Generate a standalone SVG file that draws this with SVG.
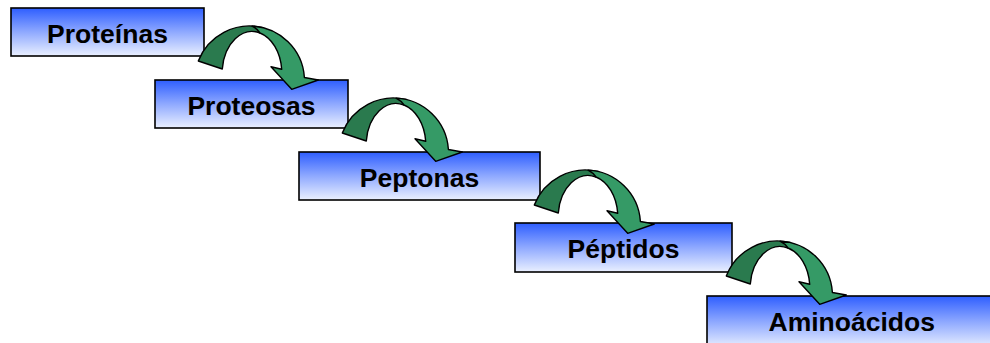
<svg xmlns="http://www.w3.org/2000/svg" xmlns:xlink="http://www.w3.org/1999/xlink" width="990" height="343" viewBox="0 0 990 343">
  <style>
    .box { fill: url(#boxFill); stroke: #000; stroke-width: 1.6; }
    .label { font-family: "Liberation Sans", Arial, sans-serif; font-weight: bold; font-size: 26.5px; fill: #000; text-anchor: middle; }
    .back { fill: #2A7A4E; stroke: #000; stroke-width: 1.4; stroke-linejoin: round; }
    .front { fill: #359A66; stroke: #000; stroke-width: 1.4; stroke-linejoin: round; }
  </style>
  <defs>
    <linearGradient id="boxFill" x1="0" y1="0" x2="0" y2="1">
      <stop offset="0" stop-color="#2E5EFF"/>
      <stop offset="0.5" stop-color="#8FA9FF"/>
      <stop offset="1" stop-color="#EAF0FF"/>
    </linearGradient>
    <!-- curved-down arrow: shaded rear band plus front band with head -->
    <g id="curvedArrow">
      <path class="back" d="M198.3,61 A55,55 0 0 1 262,27.4 L260,33 A30,42 0 0 0 222.3,69 Z"/>
      <path class="front" d="M252,26.1 A55,55 0 0 1 304.4,77.5 L318.3,80 L291.7,89.3 L271,66.7 L281.7,69.3 A30,42 0 0 0 260,33 Q257,28.5 252,26.1 Z"/>
    </g>
  </defs>

  <g id="proteinas">
    <rect class="box" x="11" y="8" width="193" height="48"/>
    <text class="label" x="107.5" y="42.7">Proteínas</text>
  </g>
  <g id="proteosas">
    <rect class="box" x="155" y="80" width="193" height="48"/>
    <text class="label" x="251.5" y="115">Proteosas</text>
  </g>
  <g id="peptonas">
    <rect class="box" x="299" y="152" width="241" height="48"/>
    <text class="label" x="419.5" y="186.5">Peptonas</text>
  </g>
  <g id="peptidos">
    <rect class="box" x="515" y="223" width="217" height="49"/>
    <text class="label" x="623.5" y="258">Péptidos</text>
  </g>
  <g id="aminoacidos">
    <rect class="box" x="707" y="296" width="290" height="52"/>
    <text class="label" x="851.7" y="330.5">Aminoácidos</text>
  </g>

  <g id="connectors">
    <use xlink:href="#curvedArrow"/>
    <use xlink:href="#curvedArrow" transform="translate(144,72)"/>
    <use xlink:href="#curvedArrow" transform="translate(336,144)"/>
    <use xlink:href="#curvedArrow" transform="translate(528,215)"/>
  </g>
</svg>
